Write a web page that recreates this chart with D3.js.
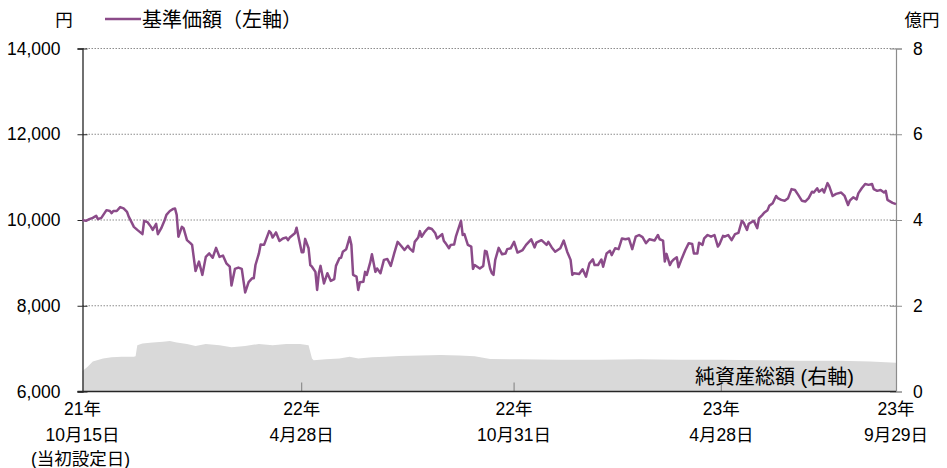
<!DOCTYPE html>
<html><head><meta charset="utf-8">
<script src="https://cdn.jsdelivr.net/npm/d3@7"></script>
<style>
body{margin:0;background:#fff}
svg{display:block}
text{font-family:"Liberation Sans","Noto Sans CJK JP",sans-serif;fill:#000}
</style>
</head><body>
<svg id="c" width="947" height="468"></svg>
<script>
// ---- data (x = trading-day index from 2021-10-15) ----
const navDays = [0,2,4,6,8,9,11,14,16,17,18,20,22,24,26,27,29,30,32,35,36,38,40,41,43,44,46,48,49,51,53,54,55,56,58,59,61,63,64,66,68,70,72,74,76,78,80,82,84,86,87,89,91,93,94,95,97,99,100,101,103,104,106,109,110,111,113,115,117,119,120,121,124,
125,128,129,130,132,133,134,136,137,138,139,141,143,145,147,148,150,151,152,154,156,157,158,160,161,162,164,165,166,168,169,171,172,174,176,178,180,182,184,186,188,190,191,193,194,196,197,198,200,202,204,206,207,210,211,212,214,215,217,218,221,222,223,225,227,228,229,232,234,235,236,238,239,240,241,243,245,247,
248,250,252,254,257,259,262,264,265,268,271,272,274,276,279,281,283,285,286,287,290,292,294,296,298,299,301,303,304,306,308,309,311,313,315,317,319,321,323,325,327,329,331,334,336,337,339,340,341,343,344,345,347,348,350,352,354,356,357,359,360,
362,363,365,367,369,371,372,374,375,377,379,381,383,385,386,388,389,391,392,394,395,397,398,400,401,403,405,406,408,410,412,414,416,418,420,422,424,426,427,429,430,432,433,435,436,438,440,443,445,447,448,450,452,453,455,457,459,461,462,464,466,468,469,470,473,475];
const navValues = [10000,9980,10020,10050,10100,10020,10050,10230,10210,10160,10210,10210,10300,10270,10190,10080,9920,9840,9770,9670,9980,9950,9840,9770,9910,9670,9810,10000,10120,10210,10260,10270,10120,9610,9840,9810,9530,9460,9420,8810,9030,8720,9140,9220,9120,9350,9140,9170,8990,8910,8470,8860,8890,8860,8580,8310,8550,8640,8640,8950,9220,9430,9420,9740,9700,9590,9710,9510,9570,9590,9530,9590,9690,
9820,9250,9250,9560,9340,8950,8910,8790,8370,8760,8930,8520,8760,8580,8620,8930,9110,9120,9260,9320,9600,9420,8720,8680,8370,8550,8560,8790,8720,9010,9200,8790,8870,8760,9070,9090,8930,9220,9490,9400,9300,9400,9340,9260,9490,9590,9740,9610,9730,9820,9790,9690,9570,9670,9510,9460,9340,9420,9430,9610,9980,9650,9670,9420,9380,8860,8950,8870,8930,9280,9260,8870,8760,8720,9070,9350,9200,9220,
9320,9340,9490,9240,9300,9420,9550,9360,9470,9530,9420,9490,9360,9260,9340,9520,9260,9070,8720,8760,8740,8850,8680,8990,9080,8950,8950,9080,8910,9220,9280,9180,9340,9320,9570,9550,9570,9320,9610,9650,9600,9460,9550,9520,9650,9550,9520,9030,9210,8950,9030,9070,9130,8900,9110,9300,9460,9440,9220,9220,9470,
9420,9570,9650,9610,9650,9380,9440,9630,9610,9650,9530,9670,9700,9980,9940,9770,9910,9960,9980,9810,10040,10120,10170,10230,10330,10390,10560,10510,10470,10450,10510,10720,10700,10580,10450,10430,10510,10660,10640,10740,10660,10720,10640,10860,10790,10560,10610,10640,10560,10350,10450,10530,10480,10620,10740,10840,10820,10840,10720,10680,10700,10640,10680,10470,10400,10370];

const assetDays = [0,3,6,12,17,23,30,31,32,35,41,47,51,55,61,66,72,80,87,95,103,111,119,127,132,134,135,142,150,156,161,169,177,185,197,209,220,229,238,255,279,302,325,349,372,396,419,442,460,475];
const assetValues = [0.48,0.58,0.70,0.77,0.80,0.81,0.81,0.82,1.08,1.12,1.14,1.16,1.18,1.14,1.11,1.06,1.11,1.08,1.03,1.06,1.11,1.08,1.11,1.11,1.08,0.77,0.73,0.75,0.77,0.81,0.77,0.80,0.81,0.83,0.84,0.85,0.84,0.82,0.76,0.75,0.74,0.74,0.75,0.74,0.74,0.73,0.72,0.72,0.70,0.67];

const leftTicks = [6000,8000,10000,12000,14000];
const rightTicks = [0,2,4,6,8];
const gridTicks = [8000,10000,12000,14000];
const xTickDays = [0,128,252,373,475];
const xTickYears = ["21年","22年","22年","23年","23年"];
const xTickDates = ["10月15日","4月28日","10月31日","4月28日","9月29日"];
const firstNote = "(当初設定日)";
const leftUnit = "円", rightUnit = "億円";
const navLabel = "基準価額（左軸）";
const assetLabel = "純資産総額 (右軸)";

// ---- layout ----
const L = 82.5, R = 896, T = 48.5, B = 391.5;
const x = d3.scaleLinear().domain([0,475]).range([L,R]);
const yL = d3.scaleLinear().domain([6000,14000]).range([B,T]);
const yR = d3.scaleLinear().domain([0,8]).range([B,T]);
const svg = d3.select("#c");

// area
const area = d3.area().x((d,i)=>x(assetDays[i])).y0(B).y1((d)=>yR(d)).curve(d3.curveLinear);
svg.append("path").attr("d", area(assetValues)).attr("fill","#d9d9d9");

// grid
svg.append("g").selectAll("line").data(gridTicks).join("line")
  .attr("x1",L).attr("x2",R).attr("y1",d=>yL(d)).attr("y2",d=>yL(d))
  .attr("stroke","#8c8c8c").attr("stroke-width",1).attr("stroke-dasharray","1.5,1.5");

// x inner ticks
svg.append("g").selectAll("line").data(xTickDays.slice(1,4)).join("line")
  .attr("x1",d=>x(d)).attr("x2",d=>x(d)).attr("y1",B).attr("y2",B-9)
  .attr("stroke","#7f7f7f").attr("stroke-width",1);

// left axis
const gL = svg.append("g").attr("transform",`translate(${L},0)`)
  .call(d3.axisLeft(yL).tickValues(leftTicks).tickSize(5).tickPadding(17).tickFormat(d3.format(",")));
gL.select(".domain").attr("stroke","#262626").attr("stroke-width",1.3);
gL.selectAll(".tick line").attr("stroke","#262626").attr("x2",-5).clone().attr("x2",5);
gL.selectAll(".tick text").attr("font-size",17.5).attr("font-family","Liberation Sans").attr("fill","#000");

// right axis
const gR = svg.append("g").attr("transform",`translate(${R},0)`)
  .call(d3.axisRight(yR).tickValues(rightTicks).tickSize(6).tickPadding(11));
gR.select(".domain").attr("stroke","#8c8c8c").attr("stroke-width",1.2);
gR.selectAll(".tick line").attr("stroke","#8c8c8c").clone().attr("x2",-6);
gR.selectAll(".tick text").attr("font-size",17.5).attr("font-family","Liberation Sans").attr("fill","#000");

// bottom axis line
svg.append("line").attr("x1",L-5).attr("x2",R).attr("y1",B).attr("y2",B)
  .attr("stroke","#262626").attr("stroke-width",1.3);

// NAV line
const line = d3.line().x((d,i)=>x(navDays[i])).y(d=>yL(d));
svg.append("path").attr("d", line(navValues)).attr("fill","none")
  .attr("stroke","#8b4b89").attr("stroke-width",2.5).attr("stroke-linejoin","round");

// x labels
const gx = svg.append("g").selectAll("g").data(xTickDays).join("g")
  .attr("transform",d=>`translate(${x(d)},0)`);
gx.append("text").attr("y",415).attr("text-anchor","middle").attr("font-size",17.5).text((d,i)=>xTickYears[i]);
gx.append("text").attr("y",441).attr("text-anchor","middle").attr("font-size",17.5).text((d,i)=>xTickDates[i]);
svg.append("text").attr("x",x(0)-2).attr("y",465).attr("text-anchor","middle").attr("font-size",17.5).text(firstNote);

// units & legend
svg.append("text").attr("x",64).attr("y",26).attr("text-anchor","middle").attr("font-size",17.5).text(leftUnit);
svg.append("text").attr("x",922).attr("y",26).attr("text-anchor","middle").attr("font-size",17.5).text(rightUnit);
svg.append("line").attr("x1",105).attr("x2",141).attr("y1",19).attr("y2",19).attr("stroke","#8b4b89").attr("stroke-width",2.5);
svg.append("text").attr("x",142).attr("y",27).attr("font-size",20).text(navLabel);
svg.append("text").attr("x",695).attr("y",384).attr("font-size",20).text(assetLabel);
</script>
</body></html>
